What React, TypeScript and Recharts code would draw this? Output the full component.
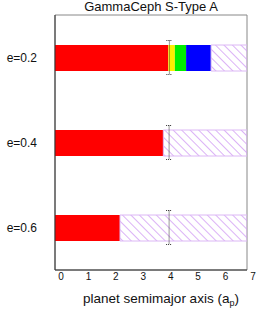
import { ComposedChart, Bar, Line, XAxis, YAxis, ReferenceArea } from 'recharts';

const rows = ['e=0.2', 'e=0.4', 'e=0.6'];
const redValues = [4.13, 3.95, 2.37];
const yellowValues = [0.24, 0, 0];
const greenValues = [0.41, 0, 0];
const blueValues = [0.91, 0, 0];
const hatchValues = [1.31, 3.05, 4.63];
const errValues = [4.17, 4.16, 4.16];
const xTicks = [0, 1, 2, 3, 4, 5, 6, 7];

const data = rows.map((e, i) => ({
  e,
  red: redValues[i],
  yellow: yellowValues[i],
  green: greenValues[i],
  blue: blueValues[i],
  hatch: hatchValues[i],
  err: errValues[i],
}));

const font = '"Liberation Sans", Arial, Helvetica, sans-serif';

const ErrDot = (props: any) => {
  const { cx, cy } = props;
  if (cx == null || cy == null) return null;
  const h = 17;
  return (
    <g stroke="#333" strokeWidth={1} fill="none">
      <line x1={cx} x2={cx} y1={cy - h} y2={cy + h} strokeDasharray="1 1" />
      <line x1={cx - 3} x2={cx + 3} y1={cy - h} y2={cy - h} strokeDasharray="1 1" />
      <line x1={cx - 3} x2={cx + 3} y1={cy + h} y2={cy + h} strokeDasharray="1 1" />
    </g>
  );
};

const AxisLabel = (props: any) => {
  const vb = props.viewBox || {};
  const x = (vb.x ?? 55) + (vb.width ?? 192) / 2 + 10;
  return (
    <text x={x} y={303} textAnchor="middle" fontSize={13.5} fill="#111" fontFamily={font}>
      planet semimajor axis (a
      <tspan fontSize={9} dy={3}>p</tspan>
      <tspan dy={-3}>)</tspan>
    </text>
  );
};

export default function App() {
  return (
    <div style={{ position: 'absolute', left: 0, top: 0, width: 257, height: 322, background: '#fff' }}>
      <div
        style={{
          position: 'absolute',
          left: 55,
          top: -1,
          width: 192,
          textAlign: 'center',
          fontFamily: font,
          fontSize: 13,
          lineHeight: '15px',
          color: '#111',
        }}
      >
        GammaCeph S-Type A
      </div>
      <ComposedChart
        width={257}
        height={322}
        data={data}
        layout="vertical"
        margin={{ top: 15, right: 10, bottom: 12, left: 0 }}
        barCategoryGap={0}
      >
        <defs>
          <pattern id="hatch" patternUnits="userSpaceOnUse" width={6} height={6} patternTransform="rotate(-45)">
            <line x1={0} y1={0} x2={0} y2={6} stroke="#c27ef0" strokeWidth={1.2} />
          </pattern>
        </defs>
        <ReferenceArea x1={0} x2={7} fill="none" stroke="#888" strokeWidth={1} ifOverflow="visible" />
        <XAxis
          type="number"
          domain={[0, 7]}
          allowDataOverflow
          ticks={xTicks}
          interval={0}
          tickLine={false}
          tickSize={0}
          tickMargin={3}
          axisLine={{ stroke: '#333' }}
          height={40}
          tick={{ fontSize: 10, fill: '#111', fontFamily: font, dx: 6 }}
          label={<AxisLabel />}
        />
        <YAxis
          type="category"
          dataKey="e"
          width={55}
          tickLine={false}
          tickSize={0}
          tickMargin={18}
          axisLine={{ stroke: '#333' }}
          tick={{ fontSize: 12, fill: '#111', fontFamily: font }}
        />
        <Bar dataKey="red" stackId="a" fill="#ff0000" barSize={26} isAnimationActive={false} />
        <Bar dataKey="yellow" stackId="a" fill="#ffee00" barSize={26} isAnimationActive={false} />
        <Bar dataKey="green" stackId="a" fill="#00ee00" barSize={26} isAnimationActive={false} />
        <Bar dataKey="blue" stackId="a" fill="#0000ff" barSize={26} isAnimationActive={false} />
        <Bar
          dataKey="hatch"
          stackId="a"
          fill="url(#hatch)"
          stroke="#dcb8f5"
          strokeWidth={1}
          barSize={26}
          isAnimationActive={false}
        />
        <Line dataKey="err" stroke="none" dot={<ErrDot />} activeDot={false} isAnimationActive={false} />
      </ComposedChart>
    </div>
  );
}
